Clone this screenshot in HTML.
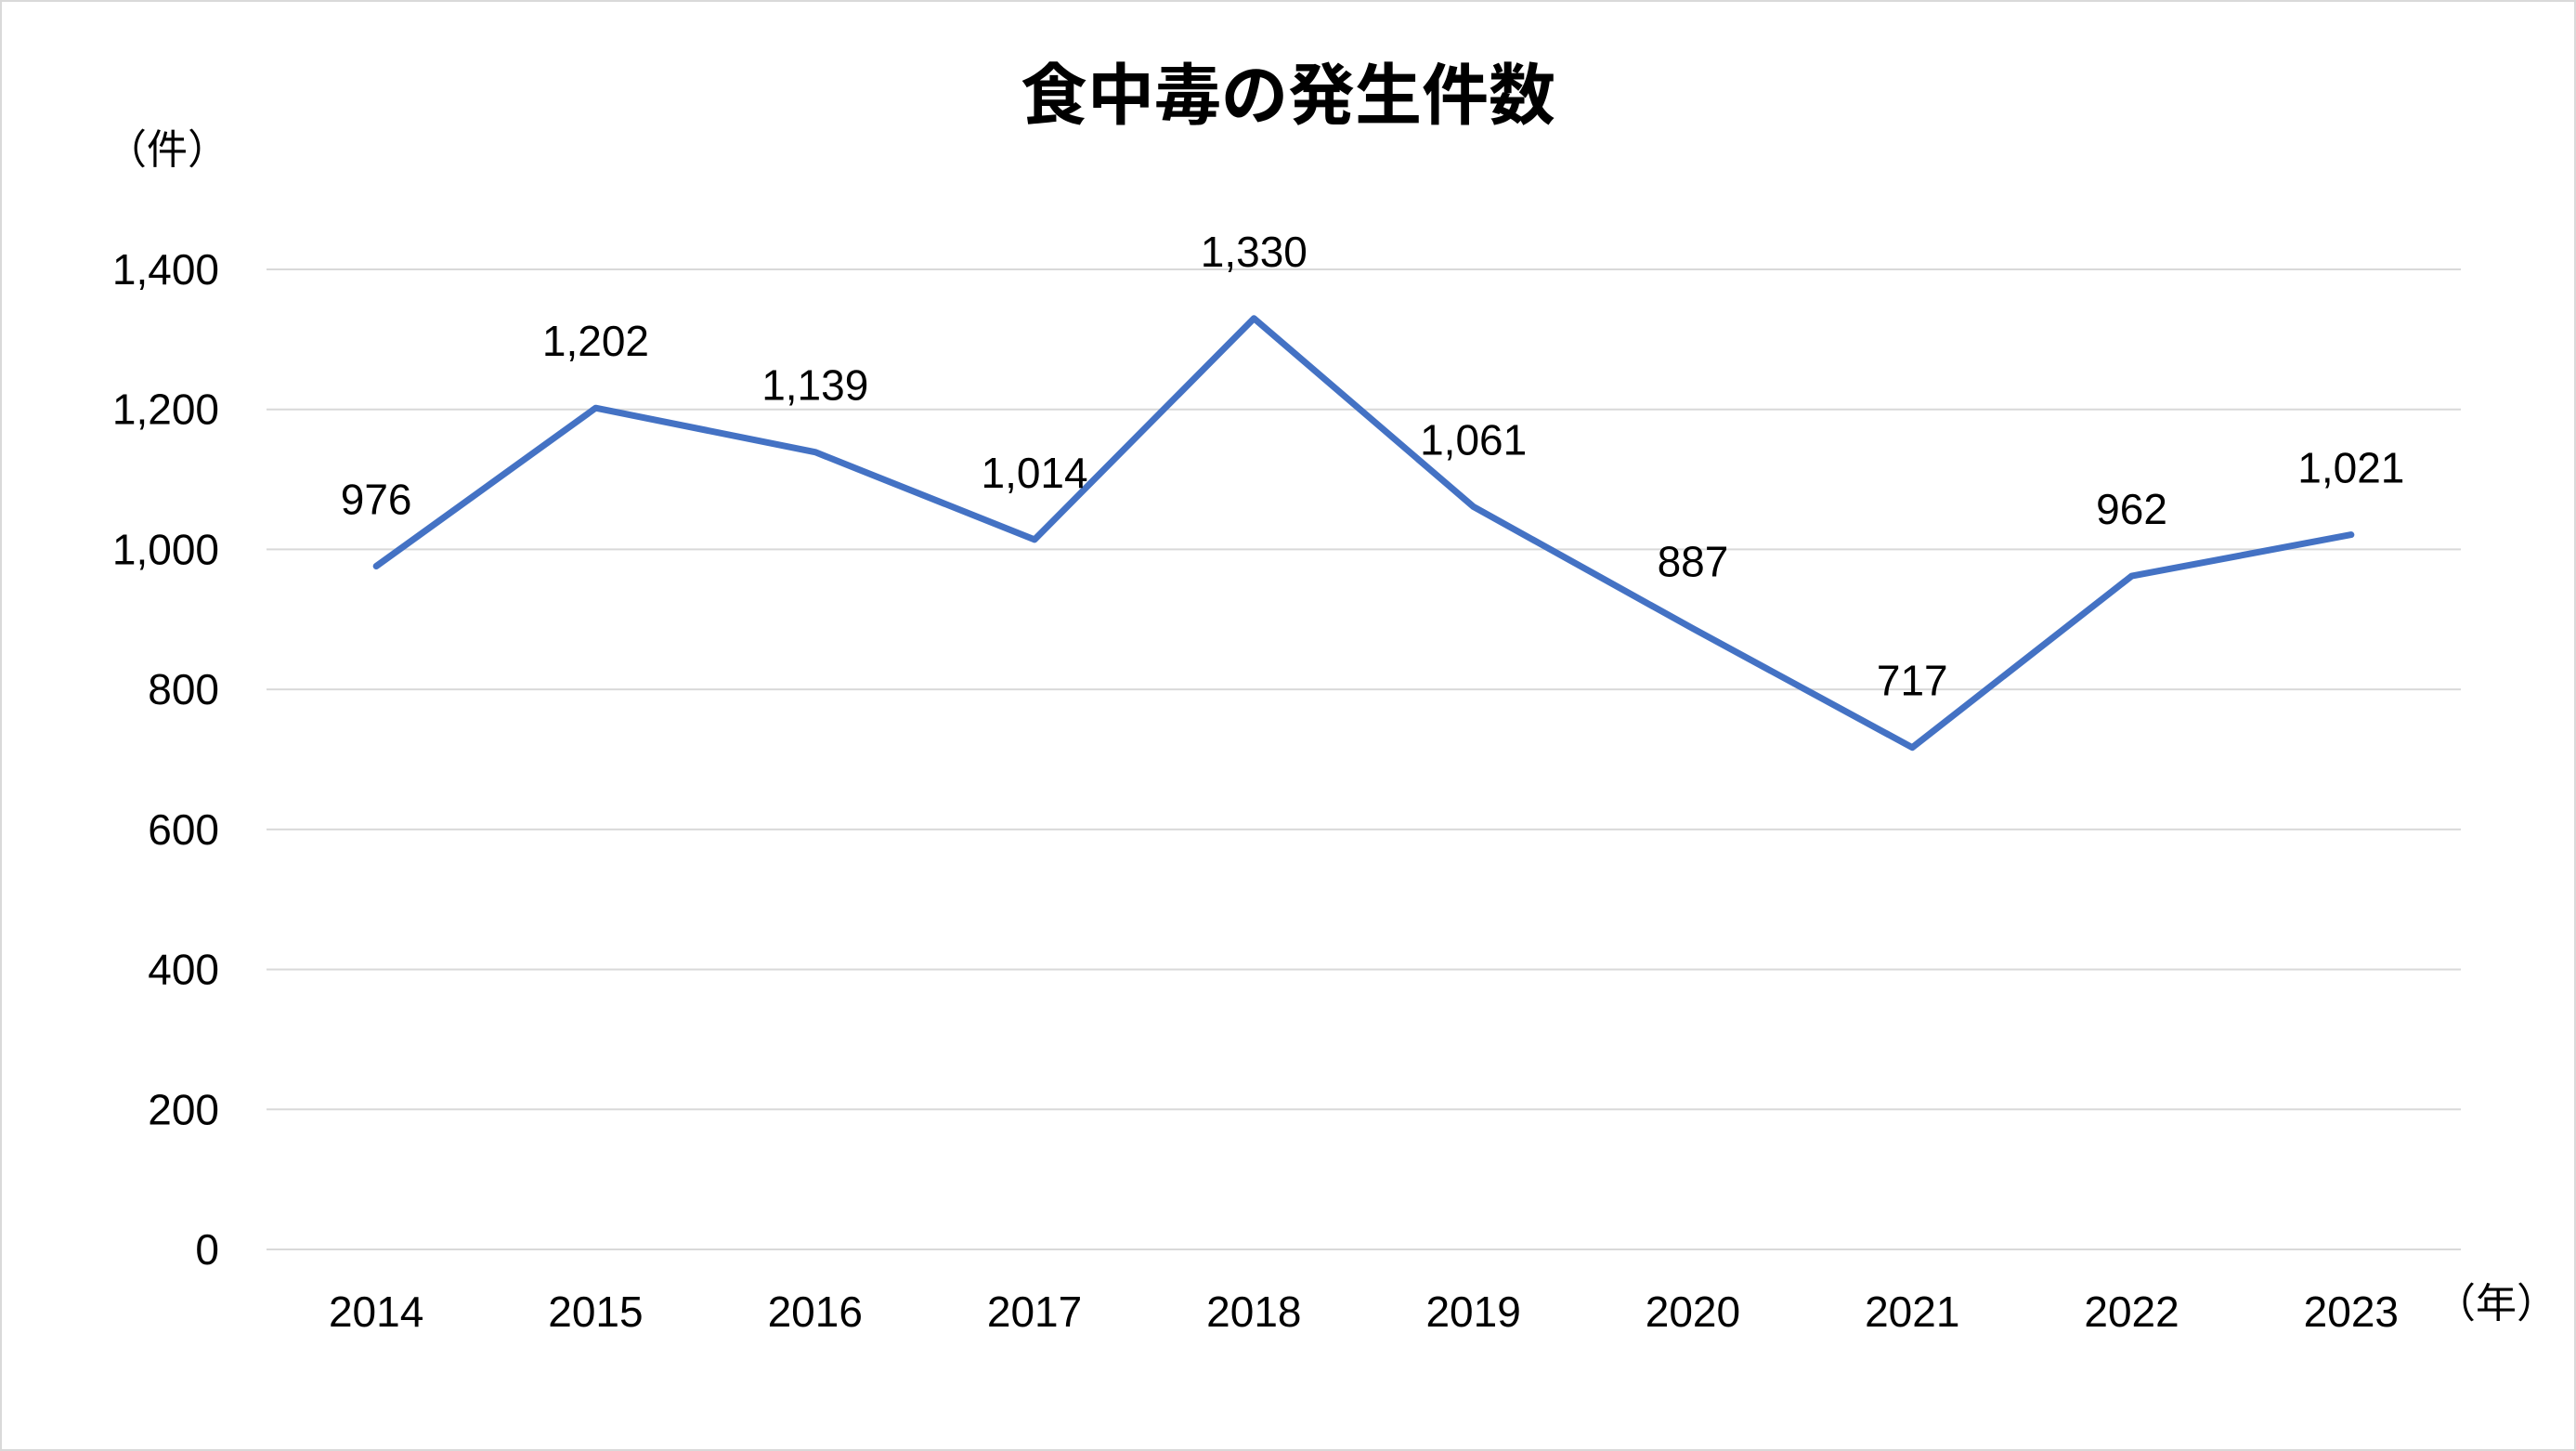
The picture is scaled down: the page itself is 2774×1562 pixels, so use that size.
<!DOCTYPE html>
<html><head><meta charset="utf-8">
<style>
html,body{margin:0;padding:0;background:#fff;}
svg{display:block;font-family:"Liberation Sans","Noto Sans CJK JP",sans-serif;}
</style></head>
<body>
<svg id="chart" width="2774" height="1562" viewBox="0 0 2774 1562">
<rect x="1" y="1" width="2772" height="1560" fill="#fff" stroke="#d9d9d9" stroke-width="2"/>
<text x="1387" y="128" text-anchor="middle" font-size="72" font-weight="bold" fill="#000">食中毒の発生件数</text>
<text x="180" y="176" text-anchor="middle" font-size="44" fill="#000">（件）</text>
<text x="2688" y="1418" text-anchor="middle" font-size="44" fill="#000">（年）</text>
<g id="grid"></g><g id="yticks"></g><g id="xticks"></g><g id="series"></g><g id="labels"></g>
</svg>
<script>
const categories = ["2014","2015","2016","2017","2018","2019","2020","2021","2022","2023"];
const values = [976,1202,1139,1014,1330,1061,887,717,962,1021];
const valueLabels = ["976","1,202","1,139","1,014","1,330","1,061","887","717","962","1,021"];
const yTicks = [0,200,400,600,800,1000,1200,1400];
const yTickLabels = ["0","200","400","600","800","1,000","1,200","1,400"];
const NS="http://www.w3.org/2000/svg";
const plotL=287, plotR=2650, y0=1345, yTop=290, yMax=1400;
const bw=(plotR-plotL)/categories.length;
const xs=i=>plotL+bw*(i+0.5);
const ys=v=>y0-(v/yMax)*(y0-yTop);
function mk(tag,attrs,parent){const e=document.createElementNS(NS,tag);for(const k in attrs)e.setAttribute(k,attrs[k]);parent.appendChild(e);return e;}
const grid=document.getElementById('grid'),yt=document.getElementById('yticks'),xt=document.getElementById('xticks'),ser=document.getElementById('series'),lab=document.getElementById('labels');
yTicks.forEach((t,i)=>{
  const l=mk('line',{x1:plotL,x2:plotR,y1:ys(t),y2:ys(t),stroke:'#d9d9d9','stroke-width':2},grid);
  
  
  const tx=mk('text',{x:236,y:ys(t)+16,'text-anchor':'end','font-size':46,fill:'#000'},yt);
  tx.textContent=yTickLabels[i];
  
  
});
categories.forEach((c,i)=>{
  const tx=mk('text',{x:xs(i),y:1428,'text-anchor':'middle','font-size':46,fill:'#000'},xt);
  tx.textContent=c;
  
  
});
const pts=values.map((v,i)=>xs(i)+','+ys(v)).join(' ');
const pl=mk('polyline',{points:pts,fill:'none',stroke:'#4472c4','stroke-width':7,'stroke-linejoin':'round','stroke-linecap':'round'},ser);


values.forEach((v,i)=>{
  const tx=mk('text',{x:xs(i),y:ys(v)-56,'text-anchor':'middle','font-size':46,fill:'#000'},lab);
  tx.textContent=valueLabels[i];
  
  
});
</script>
</body></html>
